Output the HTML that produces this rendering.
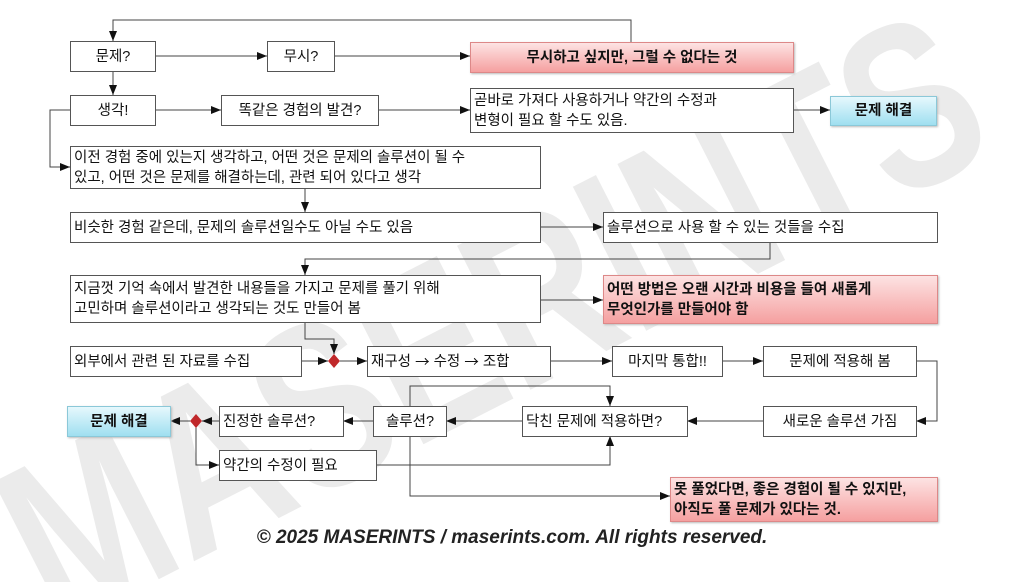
<!DOCTYPE html>
<html style="overflow:hidden"><head><meta charset="utf-8"><style>
html,body{margin:0;width:1024px;height:582px;overflow:hidden;}
body{background:#fff;position:relative;font-family:"Liberation Sans","Noto Sans CJK KR",sans-serif;}
.b{position:absolute;box-sizing:border-box;border:1px solid #555;background:#fff;font-size:14.5px;color:#111;display:flex;align-items:center;padding:0 3px;line-height:20px;}
.c{justify-content:center;}
.p{background:linear-gradient(#fde3e3,#f5a0a0);border-color:#d88;font-weight:bold;box-shadow:1px 1px 2px #bbb;}
.u{background:linear-gradient(#e6f8fd,#9fdff0);border-color:#8bc8d8;font-weight:bold;box-shadow:1px 1px 2px #bbb;justify-content:center;}
svg{position:absolute;left:0;top:0;}
.f{position:absolute;left:0;width:1024px;top:527px;text-align:center;font-size:19px;font-weight:bold;font-style:italic;color:#222;}
.ar{font-family:"Noto Sans CJK KR",sans-serif;}
</style></head><body>
<svg width="1024" height="582">
<text x="0" y="0" transform="translate(490,315) rotate(-27)" text-anchor="middle" font-family="Liberation Sans" font-weight="bold" font-size="235" fill="#ebebeb" textLength="1060" lengthAdjust="spacingAndGlyphs" dy="85">MASERINTS</text>
</svg>
<svg width="1024" height="582">
<defs><marker id="a" markerWidth="10" markerHeight="8" refX="10" refY="4" orient="auto" markerUnits="userSpaceOnUse"><path d="M0,0 L10,4 L0,8z" fill="#111"/></marker></defs>
<g stroke="#444" stroke-width="1" fill="none" marker-end="url(#a)">
<path d="M631,42 V20 H113 V41"/>
<path d="M155,56 H267"/>
<path d="M334,56 H470"/>
<path d="M113,71 V95"/>
<path d="M155,110 H221"/>
<path d="M378,110 H470"/>
<path d="M793,110 H830"/>
<path d="M70,110 H50 V167 H70"/>
<path d="M305,188 V212"/>
<path d="M540,227 H603"/>
<path d="M770,242 V259 H305 V275"/>
<path d="M540,300 H603"/>
<path d="M305,322 V339 H334 V354"/>
<path d="M301,361 H328"/>
<path d="M340,361 H367"/>
<path d="M550,361 H612"/>
<path d="M722,361 H763"/>
<path d="M916,361 H937 V421 H916"/>
<path d="M763,421 H687"/>
<path d="M522,421 H446"/>
<path d="M373,421 H343"/>
<path d="M219,421 H202"/>
<path d="M190,421 H170"/>
<path d="M196,427 V465 H219"/>
<path d="M376,465 H610 V436"/>
<path d="M410,406 V386 H610 V406"/>
<path d="M410,436 V496 H670"/>
</g>
<path d="M334,354 L340,361 L334,368 L328,361z" fill="#c0282a"/>
<path d="M196,414 L202,421 L196,428 L190,421z" fill="#c0282a"/>
</svg>
<div class="b c" style="left:70px;top:41px;width:86px;height:31px">문제?</div>
<div class="b c" style="left:267px;top:41px;width:68px;height:31px">무시?</div>
<div class="b p c" style="left:470px;top:42px;width:324px;height:31px">무시하고 싶지만, 그럴 수 없다는 것</div>
<div class="b c" style="left:70px;top:95px;width:86px;height:31px">생각!</div>
<div class="b c" style="left:221px;top:95px;width:158px;height:31px">똑같은 경험의 발견?</div>
<div class="b" style="left:470px;top:88px;width:324px;height:45px">곧바로 가져다 사용하거나 약간의 수정과<br>변형이 필요 할 수도 있음.</div>
<div class="b u" style="left:830px;top:96px;width:107px;height:30px">문제 해결</div>
<div class="b" style="left:70px;top:146px;width:471px;height:43px">이전 경험 중에 있는지 생각하고, 어떤 것은 문제의 솔루션이 될 수<br>있고, 어떤 것은 문제를 해결하는데, 관련 되어 있다고 생각</div>
<div class="b" style="left:70px;top:212px;width:471px;height:31px">비슷한 경험 같은데, 문제의 솔루션일수도 아닐 수도 있음</div>
<div class="b" style="left:603px;top:212px;width:335px;height:31px">솔루션으로 사용 할 수 있는 것들을 수집</div>
<div class="b" style="left:70px;top:275px;width:471px;height:48px">지금껏 기억 속에서 발견한 내용들을 가지고 문제를 풀기 위해<br>고민하며 솔루션이라고 생각되는 것도 만들어 봄</div>
<div class="b p" style="left:603px;top:275px;width:335px;height:49px">어떤 방법은 오랜 시간과 비용을 들여 새롭게<br>무엇인가를 만들어야 함</div>
<div class="b" style="left:70px;top:346px;width:232px;height:31px">외부에서 관련 된 자료를 수집</div>
<div class="b" style="left:367px;top:346px;width:184px;height:31px">재구성&nbsp;<span class="ar">→</span>&nbsp;수정&nbsp;<span class="ar">→</span>&nbsp;조합</div>
<div class="b c" style="left:612px;top:346px;width:111px;height:31px">마지막 통합!!</div>
<div class="b c" style="left:763px;top:346px;width:154px;height:31px">문제에 적용해 봄</div>
<div class="b u" style="left:67px;top:406px;width:104px;height:31px">문제 해결</div>
<div class="b" style="left:219px;top:406px;width:125px;height:31px">진정한 솔루션?</div>
<div class="b c" style="left:373px;top:406px;width:74px;height:31px">솔루션?</div>
<div class="b" style="left:522px;top:406px;width:166px;height:31px">닥친 문제에 적용하면?</div>
<div class="b c" style="left:763px;top:406px;width:154px;height:31px">새로운 솔루션 가짐</div>
<div class="b" style="left:219px;top:450px;width:158px;height:31px">약간의 수정이 필요</div>
<div class="b p" style="left:670px;top:477px;width:268px;height:45px">못 풀었다면, 좋은 경험이 될 수 있지만,<br>아직도 풀 문제가 있다는 것.</div>
<div class="f">© 2025 MASERINTS / maserints.com. All rights reserved.</div>
</body></html>
